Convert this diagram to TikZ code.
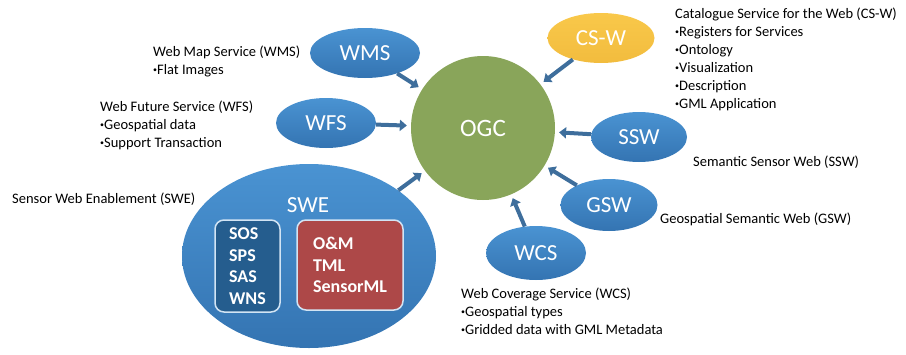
\documentclass[tikz,border=0pt]{standalone}
\usepackage{fontspec}
\usepackage{graphicx}
\setmainfont{Carlito}
\usetikzlibrary{shapes.geometric,arrows.meta}
\definecolor{ellblueT}{HTML}{4A93D2}
\definecolor{ellblueB}{HTML}{3474B2}
\definecolor{ogcgreen}{HTML}{89A55A}
\definecolor{cswyellowT}{HTML}{F9C84A}
\definecolor{cswyellowB}{HTML}{F2BC3E}
\definecolor{boxblue}{HTML}{255D8E}
\definecolor{boxred}{HTML}{AD4848}
\definecolor{arrowblue}{HTML}{3E6E9C}
\newcommand{\bul}{\raisebox{0.3ex}{\scalebox{0.55}{•}}}
\begin{document}
\begin{tikzpicture}[x=1pt,y=-1pt,
	svc/.style={ellipse,inner sep=0pt,top color=ellblueT,bottom color=ellblueB,text=white,font=\fontsize{23}{25}\selectfont},
	link/.style={draw=arrowblue,line width=4pt,-{Triangle[length=7pt,width=11pt]},shorten >=4pt},
	note/.style={anchor=north west,inner sep=0pt,align=left,font=\fontsize{14.5}{18}\selectfont},
	inbox/.style={rounded corners=9pt,draw=white!75!ellblueT,line width=1.5pt,text=white,align=left,font=\fontsize{18}{21.5}\selectfont\bfseries}]
			\useasboundingbox (0,0) rectangle (906,354);
			% centre and services
			\node[circle,fill=ogcgreen,minimum size=144pt,inner sep=0pt,text=white,font=\fontsize{25}{27}\selectfont] (ogc) at (483,128) {OGC};
			\node[svc,minimum width=110pt,minimum height=50pt] (wms) at (365,53) {WMS};
			\node[svc,minimum width=100pt,minimum height=50pt] (wfs) at (326,123) {WFS};
			\node[svc,top color=cswyellowT,bottom color=cswyellowB,minimum width=107pt,minimum height=50pt] (csw) at (601,38) {CS-W};
			\node[svc,minimum width=96pt,minimum height=50pt] (ssw) at (639,137) {SSW};
			\node[svc,minimum width=97pt,minimum height=52pt] (gsw) at (609,205) {GSW};
			\node[svc,minimum width=100pt,minimum height=54pt] (wcs) at (536,253) {WCS};
			\node[svc,minimum width=254pt,minimum height=184pt] (swe) at (309,256) {};
			\node[text=white,font=\fontsize{23}{25}\selectfont] (swetitle) at (308,205) {SWE};
			\node[inbox,fill=boxblue,minimum width=65pt,minimum height=92pt] (svcbox) at (247.5,266) {SOS\\SPS\\SAS\\WNS};
			\node[inbox,fill=boxred,minimum width=106pt,minimum height=90pt] (encbox) at (350,265) {O\&M\\TML\\SensorML};
			% arrows into OGC
			\draw[link] (wms) -- (ogc);
			\draw[link] (wfs) -- (ogc);
			\draw[link] (csw) -- (ogc);
			\draw[link] (ssw) -- (ogc);
			\draw[link] (gsw) -- (ogc);
			\draw[link] (wcs) -- (ogc);
			\draw[link] (swe) -- (ogc);
			% descriptions
			\node[note] (wmsnote) at (153,46) {Web Map Service (WMS)\\\bul Flat Images};
			\node[note] (wfsnote) at (100,101) {Web Future Service (WFS)\\\bul Geospatial data\\\bul Support Transaction};
			\node[note] (cswnote) at (675,8) {Catalogue Service for the Web (CS-W)\\\bul Registers for Services\\\bul Ontology\\\bul Visualization\\\bul Description\\\bul GML Application};
			\node[note] (sswnote) at (693,156) {Semantic Sensor Web (SSW)};
			\node[note] (gswnote) at (660,213) {Geospatial Semantic Web (GSW)};
			\node[note] (swenote) at (12,193) {Sensor Web Enablement (SWE)};
			\node[note] (wcsnote) at (461,288) {Web Coverage Service (WCS)\\\bul Geospatial types\\\bul Gridded data with GML Metadata};
\end{tikzpicture}
\end{document}
